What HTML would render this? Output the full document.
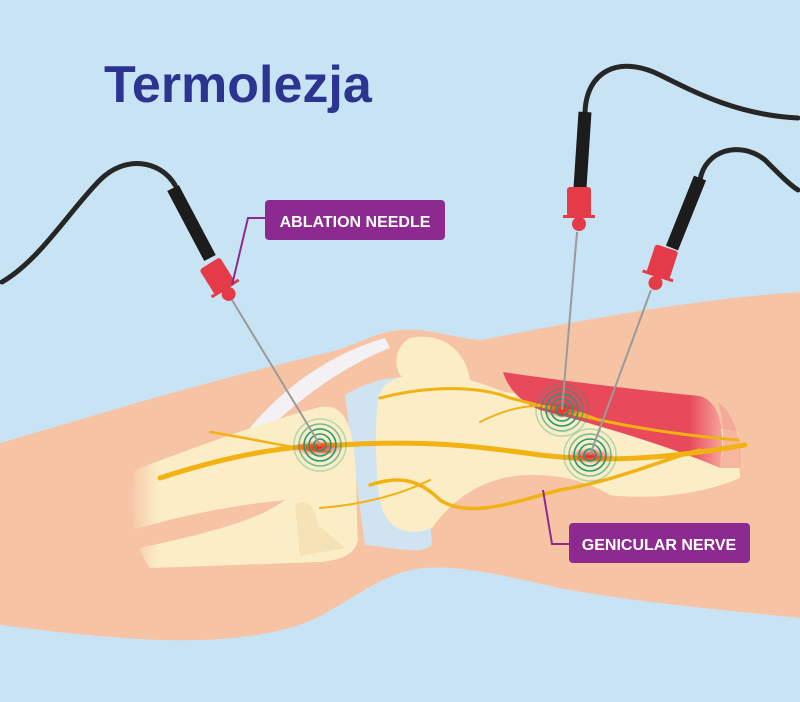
<!DOCTYPE html>
<html><head><style>html,body{margin:0;padding:0;background:#c8e4f4;}svg{display:block}</style></head>
<body>
<svg width="800" height="702" viewBox="0 0 800 702" xmlns="http://www.w3.org/2000/svg">
<defs>
<radialGradient id="burn" cx="0.5" cy="0.5" r="0.5"><stop offset="0" stop-color="#e8232d"/><stop offset="1" stop-color="#e8232d" stop-opacity="0"/></radialGradient>
<linearGradient id="fadeL" x1="0" x2="1"><stop offset="0" stop-color="#f7c8aa"/><stop offset="0.12" stop-color="#fbeec6"/><stop offset="1" stop-color="#fbeec6"/></linearGradient>
<linearGradient id="musc" x1="0" x2="1"><stop offset="0" stop-color="#e84a5b"/><stop offset="0.85" stop-color="#e84a5b"/><stop offset="1" stop-color="#f6a59c"/></linearGradient>
</defs>
<rect width="800" height="702" fill="#c8e4f4"/>
<text x="104" y="102" font-family="Liberation Sans, sans-serif" font-weight="bold" font-size="52" fill="#2b3590">Termolezja</text>
<!-- leg -->
<path d="M0,443 C80,420 180,388 330,352 C360,344 375,332 400,330 C430,328 455,338 480,340 C560,325 680,300 800,292 L800,618 C720,610 620,600 560,588 C500,575 450,562 410,570 C370,580 340,610 300,625 C220,650 120,640 0,625 Z" fill="#f7c3a5"/>
<!-- joint space -->
<path d="M345,395 C370,380 395,375 420,378 L432,545 C420,555 400,548 365,545 L355,470 Z" fill="#cfe4f0"/>
<!-- white tendon -->
<path d="M250,428 C285,385 335,352 385,338 L390,348 C345,365 300,398 262,435 Z" fill="#f3f1f3"/>
<!-- tibia (left) -->
<path d="M135,470 C200,445 270,420 320,407 C342,404 350,420 354,450 C358,490 356,520 358,540 C355,555 340,560 320,562 L150,568 C132,545 128,500 135,470 Z" fill="url(#fadeL)"/>
<path d="M115,535 C170,518 225,506 285,500 C265,515 230,530 120,552 Z" fill="#f7c3a5"/>
<path d="M295,505 C305,498 315,505 318,525 L345,548 L300,556 Z" fill="#f5e2b6"/>
<!-- femur (right) -->
<path d="M378,400 C382,378 405,372 440,375 C470,378 485,385 505,392 C600,405 680,420 738,432 L740,478 C700,495 650,500 610,495 C585,480 560,475 530,475 C490,475 455,495 432,528 C405,538 385,528 380,500 C375,470 375,430 378,400 Z" fill="#fbeec6"/>
<path d="M410,338 C440,332 465,348 470,380 C450,392 420,390 400,375 C392,360 398,345 410,338 Z" fill="#fbeec6"/>
<!-- muscle -->
<path d="M503,372 C570,382 640,390 700,396 C720,402 726,430 720,468 C680,450 600,425 540,410 C520,402 508,388 503,372 Z" fill="url(#musc)"/>
<path d="M718,402 C735,415 742,440 740,468 L720,468 C726,440 722,415 718,402Z" fill="#f3a092" opacity="0.7"/>
<!-- nerves -->
<g fill="none" stroke="#f2b214" stroke-linecap="round">
<path d="M160,478 C230,455 290,445 340,445 C420,440 470,445 540,455 C600,462 660,460 745,445" stroke-width="5"/>
<path d="M210,432 C260,440 300,450 330,452" stroke-width="2.5"/>
<path d="M380,398 C430,385 480,386 510,398 C560,410 620,430 738,440" stroke-width="3"/>
<path d="M480,422 C520,402 550,400 600,420" stroke-width="2"/>
<path d="M370,485 C400,475 420,480 440,500 C470,520 520,500 560,490 C620,480 660,460 700,450" stroke-width="3.5"/>
<path d="M320,508 C360,505 400,495 430,480" stroke-width="2"/>
</g>
<ellipse cx="318" cy="448" rx="26" ry="8" fill="url(#burn)"/>
<ellipse cx="562" cy="410" rx="20" ry="8" fill="url(#burn)"/>
<ellipse cx="590" cy="456" rx="24" ry="8" fill="url(#burn)"/>
<g fill="none" stroke="#1e9a78" stroke-width="1.6">
<circle cx="320" cy="445" r="6"/><circle cx="320" cy="445" r="11"/><circle cx="320" cy="445" r="16"/><circle cx="320" cy="445" r="21" opacity="0.6"/><circle cx="320" cy="445" r="26" opacity="0.3"/>
<circle cx="562" cy="410" r="6"/><circle cx="562" cy="410" r="11"/><circle cx="562" cy="410" r="16"/><circle cx="562" cy="410" r="21" opacity="0.6"/><circle cx="562" cy="410" r="26" opacity="0.3"/>
<circle cx="590" cy="455" r="6"/><circle cx="590" cy="455" r="11"/><circle cx="590" cy="455" r="16"/><circle cx="590" cy="455" r="21" opacity="0.6"/><circle cx="590" cy="455" r="26" opacity="0.3"/>
</g>
<g stroke="#9a9a9a" stroke-width="2">
<line x1="232" y1="300" x2="320" y2="445"/>
<line x1="577" y1="232" x2="562" y2="410"/>
<line x1="651" y1="290" x2="590" y2="455"/>
</g>
<g fill="none" stroke="#262626" stroke-width="5" stroke-linecap="round">
<path d="M2,282 C40,260 70,210 100,180 C125,155 160,160 175,185"/>
<path d="M585,115 C585,70 620,55 660,75 C700,95 740,115 798,118"/>
<path d="M700,180 C705,150 740,140 765,160 C780,175 790,185 798,190"/>
</g>
<g stroke="#1c1c1c" stroke-width="13" stroke-linecap="butt">
<line x1="173" y1="188" x2="210" y2="258"/>
<line x1="585" y1="112" x2="580" y2="188"/>
<line x1="700" y1="178" x2="672" y2="248"/>
</g>
<g fill="#e53a48">
<g transform="translate(218,277) rotate(-32)"><rect x="-12" y="-16" width="24" height="30" rx="3"/><rect x="-16" y="12" width="32" height="3"/><circle cx="0" cy="20" r="7"/></g>
<g transform="translate(579,203)"><rect x="-12" y="-16" width="24" height="30" rx="3"/><rect x="-16" y="12" width="32" height="3"/><circle cx="0" cy="21" r="7"/></g>
<g transform="translate(662,263) rotate(18)"><rect x="-12" y="-16" width="24" height="30" rx="3"/><rect x="-16" y="12" width="32" height="3"/><circle cx="0" cy="21" r="7"/></g>
</g>
<g fill="none" stroke="#8d2a8f" stroke-width="2">
<polyline points="232,285 248,218 266,218"/>
<polyline points="543,490 552,544 570,544"/>
</g>
<rect x="265" y="200" width="180" height="40" rx="4" fill="#8d2a8f"/>
<text x="355" y="227" text-anchor="middle" font-family="Liberation Sans, sans-serif" font-weight="bold" font-size="16" fill="#fff">ABLATION NEEDLE</text>
<rect x="569" y="523" width="181" height="40" rx="4" fill="#8d2a8f"/>
<text x="659" y="550" text-anchor="middle" font-family="Liberation Sans, sans-serif" font-weight="bold" font-size="16" fill="#fff">GENICULAR NERVE</text>
</svg>
</body></html>
